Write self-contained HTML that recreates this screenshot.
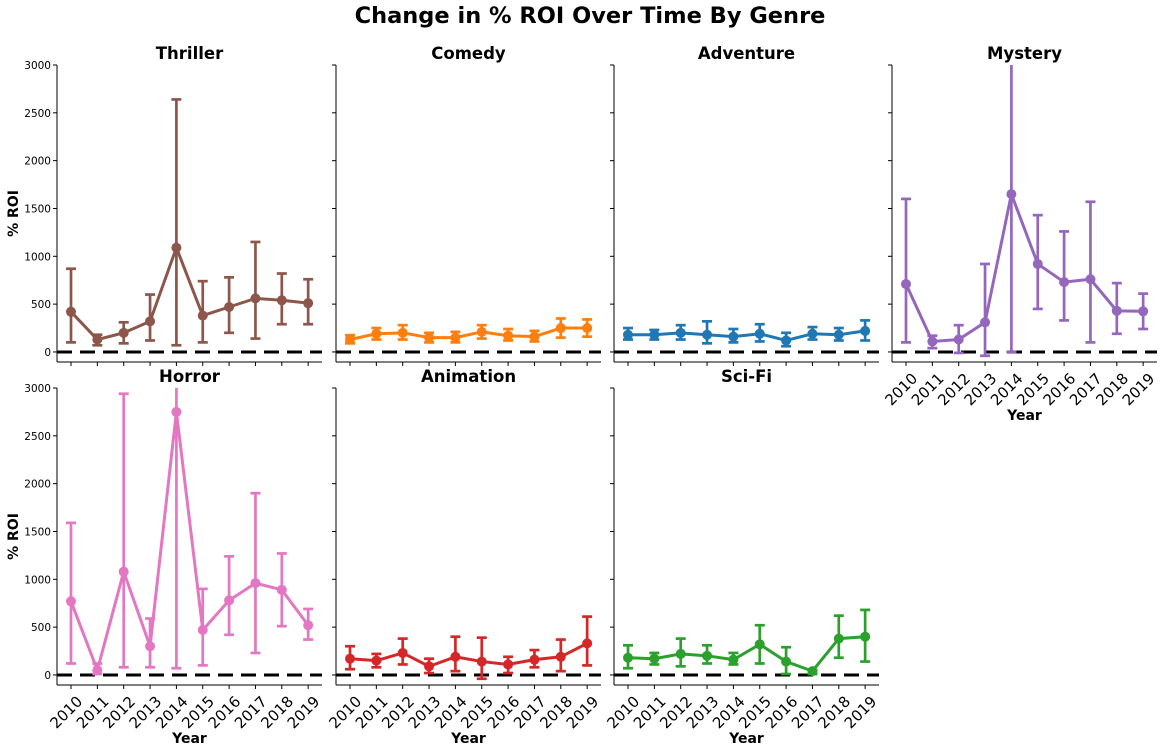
<!DOCTYPE html>
<html><head><meta charset="utf-8"><style>
body{margin:0;background:#fff;}
svg{display:block;font-family:"DejaVu Sans","Liberation Sans",sans-serif;}
</style></head><body>
<svg id="chart" width="1167" height="752" viewBox="0 0 1167 752" xmlns="http://www.w3.org/2000/svg">
<text x="590" y="23" text-anchor="middle" font-size="22.5" font-weight="bold">Change in % ROI Over Time By Genre</text>
</svg>
<script>
const years = ['2010','2011','2012','2013','2014','2015','2016','2017','2018','2019'];
const yTicks = [0,500,1000,1500,2000,2500,3000];
const genres = ['Thriller','Comedy','Adventure','Mystery','Horror','Animation','Sci-Fi'];
const colors = ['#8c564b','#ff7f0e','#1f77b4','#9467bd','#e377c2','#d62728','#2ca02c'];
const thrillerMean = [420,130,200,320,1090,380,470,560,540,510];
const thrillerLo = [100,70,90,120,70,100,200,140,290,290];
const thrillerHi = [870,180,310,600,2640,740,780,1150,820,760];
const comedyMean = [130,190,200,150,150,210,170,160,250,250];
const comedyLo = [90,130,130,100,100,140,120,110,150,160];
const comedyHi = [175,250,280,200,210,280,240,220,350,340];
const adventureMean = [180,180,200,180,160,190,120,190,180,220];
const adventureLo = [130,130,130,90,100,110,60,130,120,120];
const adventureHi = [250,230,280,320,240,290,200,260,250,330];
const mysteryMean = [710,110,130,310,1650,920,730,760,430,425];
const mysteryLo = [100,40,-10,-40,0,450,330,100,190,240];
const mysteryHi = [1600,170,280,920,3100,1430,1260,1570,720,610];
const horrorMean = [770,50,1080,300,2750,470,780,960,890,520];
const horrorLo = [120,10,80,80,70,100,420,230,510,370];
const horrorHi = [1590,120,2940,590,3100,900,1240,1900,1270,690];
const animationMean = [170,150,230,90,190,140,110,160,190,330];
const animationLo = [60,80,110,20,40,-40,20,80,40,100];
const animationHi = [300,220,380,170,400,390,190,260,370,610];
const scifiMean = [180,170,220,200,160,320,140,40,380,400];
const scifiLo = [70,110,90,120,110,120,10,10,180,140];
const scifiHi = [310,230,380,310,230,520,290,50,620,680];
const means=[thrillerMean,comedyMean,adventureMean,mysteryMean,horrorMean,animationMean,scifiMean];
const los=[thrillerLo,comedyLo,adventureLo,mysteryLo,horrorLo,animationLo,scifiLo];
const his=[thrillerHi,comedyHi,adventureHi,mysteryHi,horrorHi,animationHi,scifiHi];

const NS='http://www.w3.org/2000/svg';
const svg=document.getElementById('chart');
function mk(tag,attrs,parent){const e=document.createElementNS(NS,tag);for(const k in attrs)e.setAttribute(k,attrs[k]);(parent||svg).appendChild(e);return e;}
const colLeft=[57,336,614,892], W=265;
const rowTop=[65,388], H=297;
const yMax=3000, yMin=-105;
const defs=mk('defs',{});
genres.forEach((g,p)=>{
  const r=p<4?0:1, c=p<4?p:p-4;
  const L=colLeft[c], T=rowTop[r], B=T+H;
  const xs=i=>L+14+i*26.35;
  const ys=v=>B-(v-yMin)/(yMax-yMin)*H;
  const grp=mk('g',{});
  
  
  const cp=mk('clipPath',{id:'cp'+p},defs);
  mk('rect',{x:L,y:T,width:W,height:H},cp);
  mk('line',{x1:L,y1:T,x2:L,y2:B,stroke:'#000','stroke-width':1},grp);
  mk('line',{x1:L,y1:B,x2:L+W,y2:B,stroke:'#000','stroke-width':1},grp);
  yTicks.forEach(t=>{
    mk('line',{x1:L-4,y1:ys(t),x2:L,y2:ys(t),stroke:'#000','stroke-width':1},grp);
    if(c===0){const tx=mk('text',{x:L-6,y:ys(t)+4,'text-anchor':'end','font-size':10.5},grp);tx.textContent=t;
      
      }
  });
  const showX = (r===1)||p===3;
  years.forEach((yr,i)=>{
    mk('line',{x1:xs(i),y1:B,x2:xs(i),y2:B+4,stroke:'#000','stroke-width':1},grp);
    if(showX){const x=xs(i)+5,y=B+10;
      const tx=mk('text',{x:x,y:y,'text-anchor':'end','font-size':15,transform:`rotate(-45 ${x} ${y})`,dy:'0.7em'},grp);tx.textContent=yr;
      
      }
  });
  if(showX){const t=mk('text',{x:L+W/2,y:B+58,'text-anchor':'middle','font-size':14,'font-weight':'bold'},grp);t.textContent='Year';
    
    }
  if(c===0){const yc=(T+B)/2;const t=mk('text',{x:18,y:yc,'text-anchor':'middle','font-size':14,'font-weight':'bold',transform:`rotate(-90 18 ${yc})`},grp);t.textContent='% ROI';
    
    }
  const tt=mk('text',{x:L+W/2,y:T-6,'text-anchor':'middle','font-size':16.5,'font-weight':'bold'},grp);tt.textContent=g;
  
  
  const plot=mk('g',{'clip-path':`url(#cp${p})`},grp);
  const zl=mk('line',{x1:L,y1:ys(0),x2:L+W,y2:ys(0),stroke:'#000','stroke-width':3,'stroke-dasharray':'15 8'},plot);
  
  
  const col=colors[p];
  means[p].forEach((m,i)=>{
    const e=mk('g',{stroke:col,'stroke-width':2.7},plot);
    
    
    mk('line',{x1:xs(i),y1:ys(los[p][i]),x2:xs(i),y2:ys(his[p][i])},e);
    mk('line',{x1:xs(i)-5,y1:ys(los[p][i]),x2:xs(i)+5,y2:ys(los[p][i])},e);
    mk('line',{x1:xs(i)-5,y1:ys(his[p][i]),x2:xs(i)+5,y2:ys(his[p][i])},e);
  });
  const pts=means[p].map((m,i)=>xs(i)+','+ys(m)).join(' ');
  const pl=mk('polyline',{points:pts,fill:'none',stroke:col,'stroke-width':3},plot);
  
  
  means[p].forEach((m,i)=>{
    const d=mk('circle',{cx:xs(i),cy:ys(m),r:5,fill:col},plot);
    
    
  });
});
</script>
</body></html>
